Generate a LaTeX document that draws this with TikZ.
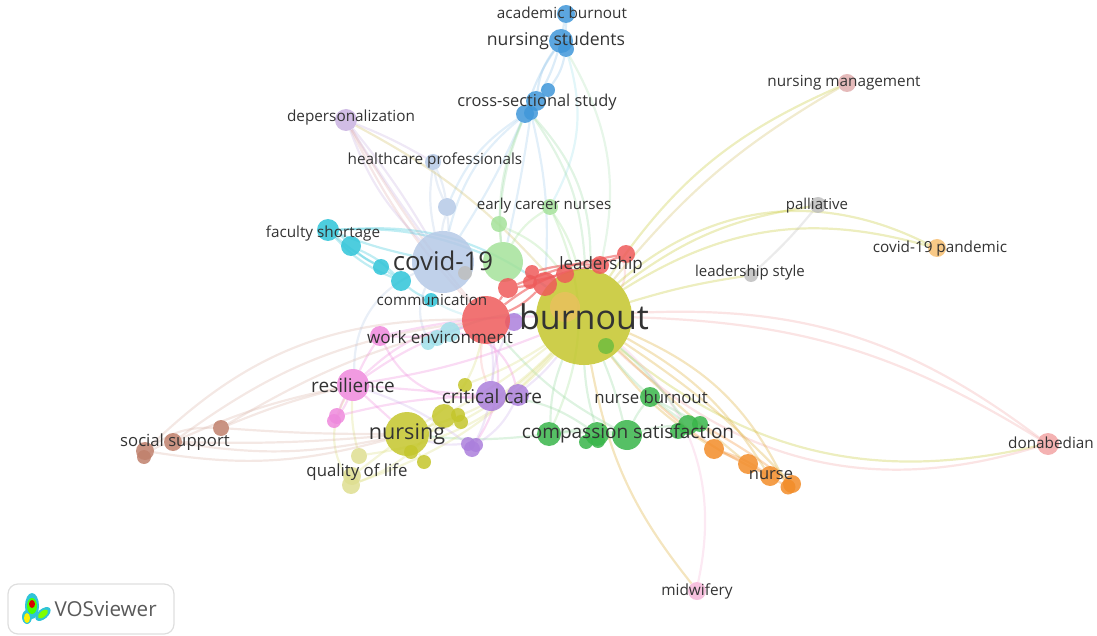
\documentclass[tikz,border=0pt]{standalone}
\usepackage{fontspec}
\setmainfont{Open Sans}
\usetikzlibrary{positioning}
\definecolor{cyel}{HTML}{C4C62B}
\definecolor{cyelpale}{HTML}{DEDE90}
\definecolor{cred}{HTML}{EE5A5A}
\definecolor{cblue}{HTML}{3F97D9}
\definecolor{cpaleblue}{HTML}{B5C9E6}
\definecolor{cpalegreen}{HTML}{A4E29A}
\definecolor{cgreen}{HTML}{38B54A}
\definecolor{cteal}{HTML}{2FC4D8}
\definecolor{cpalecyan}{HTML}{A0E0EA}
\definecolor{cpink}{HTML}{EE88DC}
\definecolor{cpurple}{HTML}{AB7FDC}
\definecolor{clilac}{HTML}{C9B2E0}
\definecolor{corange}{HTML}{F28C28}
\definecolor{cbrown}{HTML}{C0806C}
\definecolor{crose}{HTML}{E0AEAE}
\definecolor{cgrey}{HTML}{BEBEBE}
\definecolor{capricot}{HTML}{F7BF72}
\definecolor{csalmon}{HTML}{F2A4A4}
\definecolor{cmid}{HTML}{F5B6D8}
\definecolor{ctext}{HTML}{333333}
\begin{document}
\begin{tikzpicture}[x=1pt,y=-1pt]
	\pgfdeclarelayer{bg}    % links go below the bubbles
	\pgfsetlayers{bg,main}
	
	\tikzset{bubble/.style={circle,inner sep=0pt,fill opacity=.85,minimum size=#1}}
	\tikzset{lab/.style={inner sep=0pt,text=ctext,font=\fontsize{#1}{#1}\selectfont}}
	\tikzstyle{link} = [line width=2.2pt,draw opacity=.3]
	
	\useasboundingbox (0,0) rectangle (1097,636);
	
	% Bubbles
	\node [bubble=96, fill=cyel] (burnout) at (584,317) {};
	\node [bubble=30, fill=capricot!70!cyel] (burnoutB) at (565,307) {};
	\node [bubble=16, fill=cgreen!60!cyel] (burnoutC) at (606,346) {};
	\node [bubble=18, fill=cpurple] (purpleA) at (514,322) {};
	\node [bubble=48, fill=cred] (redA) at (486,320) {};
	\node [bubble=62, fill=cpaleblue] (covid) at (443,262) {};
	\node [bubble=40, fill=cpalegreen] (greenA) at (503,262) {};
	\node [bubble=14, fill=cgrey] (greyA) at (465,273) {};
	\node [bubble=18, fill=cred] (leader) at (600,265) {};
	\node [bubble=18, fill=cred] (redB) at (626,254) {};
	\node [bubble=14, fill=cred] (redC) at (532,272) {};
	\node [bubble=14, fill=cred] (redD) at (530,282) {};
	\node [bubble=20, fill=cred] (redE) at (508,288) {};
	\node [bubble=24, fill=cred] (redF) at (545,284) {};
	\node [bubble=18, fill=cred] (redG) at (565,274) {};
	
	\node [bubble=22, fill=cteal] (faculty) at (328,230) {};
	\node [bubble=20, fill=cteal] (tealA) at (351,246) {};
	\node [bubble=16, fill=cteal] (tealB) at (381,267) {};
	\node [bubble=20, fill=cteal] (tealC) at (401,281) {};
	\node [bubble=14, fill=cteal] (commun) at (431,300) {};
	\node [bubble=20, fill=cpalecyan] (cyanA) at (450,332) {};
	\node [bubble=16, fill=cpalecyan] (cyanB) at (437,338) {};
	\node [bubble=14, fill=cpalecyan] (cyanC) at (428,343) {};
	
	\node [bubble=20, fill=cpink] (workenv) at (380,336) {};
	\node [bubble=32, fill=cpink] (resil) at (353,385) {};
	\node [bubble=16, fill=cpink] (pinkA) at (337,416) {};
	\node [bubble=14, fill=cpink] (pinkB) at (334,421) {};
	
	\node [bubble=16, fill=cpalegreen] (earlycar) at (550,207) {};
	\node [bubble=16, fill=cpalegreen] (greenB) at (499,224) {};
	\node [bubble=18, fill=cpaleblue] (paleA) at (447,207) {};
	\node [bubble=16, fill=cpaleblue] (health) at (433,162) {};
	\node [bubble=22, fill=clilac] (deperson) at (346,120) {};
	
	\node [bubble=18, fill=cblue] (crossB) at (525,114) {};
	\node [bubble=14, fill=cblue] (crossC) at (531,113) {};
	\node [bubble=20, fill=cblue] (crossA) at (536,101) {};
	\node [bubble=14, fill=cblue] (crossD) at (548,90) {};
	\node [bubble=16, fill=cblue] (studentB) at (566,49) {};
	\node [bubble=24, fill=cblue] (students) at (561,41) {};
	\node [bubble=18, fill=cblue] (academic) at (566,14) {};
	
	\node [bubble=18, fill=crose] (manage) at (847,83) {};
	\node [bubble=16, fill=cgrey] (palliat) at (818,205) {};
	\node [bubble=14, fill=cgrey] (lstyle) at (751,275) {};
	\node [bubble=18, fill=capricot] (pandemic) at (937,248) {};
	\node [bubble=22, fill=csalmon] (donab) at (1048,444) {};
	\node [bubble=18, fill=cmid] (midwife) at (697,591) {};
	
	\node [bubble=20, fill=corange] (orangeA) at (714,449) {};
	\node [bubble=20, fill=corange] (orangeB) at (748,464) {};
	\node [bubble=20, fill=corange] (nurse) at (770,476) {};
	\node [bubble=18, fill=corange] (orangeC) at (792,484) {};
	\node [bubble=15, fill=corange] (orangeD) at (788,487) {};
	
	\node [bubble=24, fill=cgreen] (compA) at (549,434) {};
	\node [bubble=24, fill=cgreen] (compB) at (597,434) {};
	\node [bubble=14, fill=cgreen] (compC) at (586,442) {};
	\node [bubble=14, fill=cgreen] (compD) at (598,441) {};
	\node [bubble=30, fill=cgreen] (compE) at (627,435) {};
	\node [bubble=16, fill=cgreen] (compF) at (678,431) {};
	\node [bubble=20, fill=cgreen] (compG) at (688,425) {};
	\node [bubble=16, fill=cgreen] (compH) at (700,424) {};
	\node [bubble=20, fill=cgreen] (nburn) at (650,397) {};
	
	\node [bubble=30, fill=cpurple] (critical) at (491,396) {};
	\node [bubble=22, fill=cpurple] (purpleB) at (518,395) {};
	\node [bubble=14, fill=cyel] (yelE) at (465,385) {};
	\node [bubble=16, fill=cpurple] (purpleC) at (472,449) {};
	\node [bubble=14, fill=cpurple] (purpleD) at (476,445) {};
	\node [bubble=14, fill=cpurple] (purpleF) at (468,444) {};
	
	\node [bubble=44, fill=cyel] (nursing) at (407,434) {};
	\node [bubble=24, fill=cyel] (yelA) at (444,416) {};
	\node [bubble=14, fill=cyel] (yelB) at (458,415) {};
	\node [bubble=14, fill=cyel] (yelC) at (461,422) {};
	\node [bubble=14, fill=cyel] (yelD) at (411,452) {};
	\node [bubble=14, fill=cyel] (yelF) at (424,462) {};
	\node [bubble=16, fill=cyelpale] (qualA) at (359,456) {};
	\node [bubble=18, fill=cyelpale] (qualB) at (352,476) {};
	\node [bubble=18, fill=cyelpale] (qualC) at (351,485) {};
	
	\node [bubble=18, fill=cbrown] (social) at (173,442) {};
	\node [bubble=18, fill=cbrown] (brownA) at (145,451) {};
	\node [bubble=14, fill=cbrown] (brownB) at (144,457) {};
	\node [bubble=16, fill=cbrown] (brownC) at (221,428) {};
	
	% Links, grouped by colour
	\begin{pgfonlayer}{bg}
	  \draw [link, cblue!60] (academic) to[bend left=12] (students);
	  \draw [link, cblue!60] (academic) to[bend right=12] (studentB);
	  \draw [link, cblue!60] (students) to[bend right=8] (crossB);
	  \draw [link, cblue!60] (students) to[bend right=14] (crossA);
	  \draw [link, cblue!60] (students) to[bend left=6] (crossA);
	  \draw [link, cblue!60] (studentB) to[bend left=12] (crossD);
	  \draw [link, cpalecyan] (studentB) to[bend left=22] (earlycar);
	  \draw [link, cgreen!40] (studentB) to[bend left=22] (burnout);
	  \draw [link, cblue!50] (crossB) to[bend right=16] (paleA);
	  \draw [link, cblue!50] (crossB) to[bend right=18] (covid);
	  \draw [link, cblue!50] (crossB) to[bend left=4] (covid);
	  \draw [link, cgreen!50] (crossB) to[bend right=8] (greenB);
	  \draw [link, cgreen!50] (crossB) to[bend right=14] (greenA);
	  \draw [link, cblue!50] (crossC) to[bend left=2] (greenA);
	  \draw [link, cgreen!50] (crossC) to[bend left=16] (burnout);
	  \draw [link, cgreen!50] (crossC) to[bend left=22] (burnout);
	  \draw [link, cblue!50] (crossC) to[bend left=8] (redF);
	  \draw [link, cpaleblue] (health) to[bend right=8] (paleA);
	  \draw [link, cpaleblue] (health) to[bend left=8] (paleA);
	  \draw [link, cpaleblue] (paleA) to[bend left=6] (covid);
	  \draw [link, cpaleblue] (paleA) to[bend right=6] (covid);
	  \draw [link, cpaleblue] (health) to[bend right=10] (covid);
	  \draw [link, clilac] (deperson) to[bend right=12] (covid);
	  \draw [link, clilac] (deperson) to[bend right=2] (covid);
	  \draw [link, clilac] (deperson) to[bend left=4] (covid);
	  \draw [link, crose] (deperson) to[bend right=8] (redA);
	  \draw [link, crose] (deperson) to[bend right=4] (redA);
	  \draw [link, cyel!60!crose] (deperson) to[bend left=10] (burnout);
	  \draw [link, clilac] (deperson) to[bend left=4] (health);
	  \draw [link, cteal] (faculty) to[bend left=12] (tealA);
	  \draw [link, cteal] (faculty) to[bend right=6] (tealB);
	  \draw [link, cteal] (faculty) to[bend right=12] (tealC);
	  \draw [link, cteal] (faculty) to[bend left=12] (greenA);
	  \draw [link, cteal] (faculty) to[bend left=20] (burnout);
	  \draw [link, cteal] (faculty) to[bend right=4] (covid);
	  \draw [link, cteal] (tealA) to[bend right=8] (tealB);
	  \draw [link, cteal] (tealA) to[bend left=10] (tealC);
	  \draw [link, cteal] (tealB) to (tealC);
	  \draw [link, cteal] (tealC) to[bend right=8] (commun);
	  \draw [link, cpalecyan] (commun) to[bend right=6] (redA);
	  \draw [link, cpaleblue] (covid) to[bend right=24] (cyanC);
	  \draw [link, cpaleblue] (covid) to[bend right=32] (resil);
	  \draw [link, cpalegreen] (earlycar) to[bend right=14] (greenA);
	  \draw [link, cpalegreen] (earlycar) to[bend left=10] (burnout);
	  \draw [link, cpalegreen] (earlycar) to[bend left=24] (compA);
	  \draw [link, cpalegreen] (greenB) to (greenA);
	  \draw [link, cpalegreen] (greenB) to[bend left=16] (burnout);
	  \draw [link, cred, draw opacity=.6] (redA) to (redE);
	  \draw [link, cred, draw opacity=.6] (redA) to[bend right=10] (redF);
	  \draw [link, cred, draw opacity=.6] (redE) to (redF);
	  \draw [link, cred, draw opacity=.6] (redD) to (redG);
	  \draw [link, cred, draw opacity=.6] (redC) to[bend left=8] (leader);
	  \draw [link, cred, draw opacity=.6] (redE) to[bend left=6] (redB);
	  \draw [link, cred, draw opacity=.6] (redA) to[bend left=14] (leader);
	  \draw [link, cred, draw opacity=.6] (leader) to (redB);
	  \draw [link, cred!50] (redB) to[bend left=18] (burnout);
	  \draw [link, cred!50] (redA) to[bend right=14] (critical);
	  \draw [link, cyel] (burnout) to[bend left=16] (manage);
	  \draw [link, cyel!60!crose] (burnout) to[bend left=10] (manage);
	  \draw [link, cyel] (burnout) to[bend left=14] (palliat);
	  \draw [link, cyel] (burnout) to[bend left=4] (lstyle);
	  \draw [link, cyel] (burnout) to[bend left=34] (pandemic);
	  \draw [link, cyel] (burnout) to[bend left=24] (pandemic);
	  \draw [link, cgrey] (lstyle) to[bend right=4] (palliat);
	  \draw [link, csalmon] (burnout) to[bend left=20] (donab);
	  \draw [link, csalmon] (burnout) to[bend left=15] (donab);
	  \draw [link, cyel] (burnout) to[bend right=26] (donab);
	  \draw [link, csalmon] (burnout) to[bend right=30] (donab);
	  \draw [link, cyel!50!corange] (burnout) to[bend right=10] (orangeA);
	  \draw [link, cyel!50!corange] (burnout) to[bend right=2] (orangeB);
	  \draw [link, cyel!50!corange] (burnout) to[bend left=6] (orangeC);
	  \draw [link, cyel!50!corange] (burnout) to[bend left=14] (nurse);
	  \draw [link, cyel!50!corange] (burnout) to[bend left=20] (orangeD);
	  \draw [link, corange] (orangeA) to (orangeB);
	  \draw [link, corange] (orangeA) to[bend left=8] (nurse);
	  \draw [link, corange] (orangeB) to (orangeD);
	  \draw [link, corange] (compH) to[bend left=4] (orangeC);
	  \draw [link, corange] (nburn) to[bend right=8] (nurse);
	  \draw [link, cyel!50!corange] (burnout) to[bend right=14] (midwife);
	  \draw [link, cmid] (burnout) to[bend left=30] (midwife);
	  \draw [link, cgreen!55] (burnout) to[bend right=10] (compA);
	  \draw [link, cgreen!55] (burnout) to[bend right=6] (compB);
	  \draw [link, cgreen!55] (burnout) to[bend left=4] (compE);
	  \draw [link, cgreen!55] (burnout) to[bend right=4] (nburn);
	  \draw [link, cgreen!55] (burnout) to[bend left=6] (compG);
	  \draw [link, cgreen!55] (redA) to[bend right=10] (compE);
	  \draw [link, cgreen!55] (compA) to[bend left=6] (compB);
	  \draw [link, cgreen!55] (compA) to[bend left=10] (compE);
	  \draw [link, cgreen!55] (compB) to (compE);
	  \draw [link, cgreen!55] (compE) to[bend left=6] (compG);
	  \draw [link, cgreen!55] (nburn) to[bend right=6] (compE);
	  \draw [link, cgreen!55] (nburn) to (compG);
	  \draw [link, cgreen!55] (nburn) to (compH);
	  \draw [link, cgreen!55] (nursing) to[bend right=6] (compA);
	  \draw [link, cgreen!55] (critical) to[bend left=14] (compB);
	  \draw [link, cyel!60] (burnout) to[bend left=14] (nursing);
	  \draw [link, cyel!60] (burnout) to[bend left=4] (yelA);
	  \draw [link, cyel!60] (burnout) to[bend left=8] (yelC);
	  \draw [link, cyel!60] (burnout) to[bend left=6] (yelE);
	  \draw [link, cyel!60] (burnout) to[bend left=20] (qualA);
	  \draw [link, cyel!60] (burnout) to[bend left=14] (qualC);
	  \draw [link, cyel!60] (nursing) to[bend right=8] (yelA);
	  \draw [link, cyel!60] (nursing) to[bend right=6] (yelC);
	  \draw [link, cyel!60] (nursing) to (qualB);
	  \draw [link, cyel!60] (nursing) to (yelF);
	  \draw [link, cyel!60] (yelA) to[bend left=14] (qualC);
	  \draw [link, cyel!60] (resil) to[bend right=8] (qualA);
	  \draw [link, cyel!60] (resil) to[bend right=30] (qualC);
	  \draw [link, cyel!60] (redA) to[bend left=22] (nursing);
	  \draw [link, cpink] (resil) to[bend left=8] (redA);
	  \draw [link, cpink] (resil) to[bend left=16] (redA);
	  \draw [link, cpink] (resil) to[bend right=6] (burnout);
	  \draw [link, cpink] (resil) to (critical);
	  \draw [link, cpink] (resil) to (nursing);
	  \draw [link, cpink] (resil) to[bend right=6] (pinkA);
	  \draw [link, cpink] (resil) to[bend left=8] (pinkB);
	  \draw [link, cpink] (resil) to[bend left=4] (workenv);
	  \draw [link, cpink] (pinkA) to[bend left=6] (critical);
	  \draw [link, cpink] (workenv) to[bend right=10] (redA);
	  \draw [link, cpink] (workenv) to[bend right=34] (critical);
	  \draw [link, cpink] (workenv) to[bend left=6] (burnout);
	  \draw [link, cpink] (cyanA) to[bend left=34] (purpleB);
	  \draw [link, cpink] (redA) to[bend left=24] (purpleC);
	  \draw [link, cpalecyan] (cyanB) to (cyanA);
	  \draw [link, cpalecyan] (cyanC) to[bend left=14] (burnout);
	  \draw [link, cpurple!60] (critical) to[bend right=8] (redA);
	  \draw [link, cpurple!60] (critical) to[bend left=12] (purpleA);
	  \draw [link, cpurple!60] (critical) to[bend left=6] (purpleC);
	  \draw [link, cpurple!60] (purpleB) to[bend left=14] (purpleD);
	  \draw [link, cpurple!60] (purpleB) to[bend right=6] (burnout);
	  \draw [link, cpurple!60] (nursing) to[bend right=10] (purpleF);
	  \draw [link, cpurple!60] (resil) to[bend left=8] (purpleF);
	  \draw [link, cbrown!60] (social) to[bend right=3] (nursing);
	  \draw [link, cbrown!60] (social) to[bend right=10] (nursing);
	  \draw [link, cbrown!60] (brownA) to[bend right=12] (nursing);
	  \draw [link, cbrown!60] (brownC) to[bend right=2] (nursing);
	  \draw [link, cbrown!60] (social) to[bend left=6] (resil);
	  \draw [link, cbrown!60] (brownC) to[bend left=4] (resil);
	  \draw [link, cbrown!60] (brownC) to[bend left=8] (redA);
	  \draw [link, cbrown!60] (social) to[bend left=14] (redA);
	  \draw [link, cbrown!60] (brownA) to[bend left=22] (redA);
	  \draw [link, cbrown!60] (brownA) to[bend left=18] (brownC);
	  \draw [link, cbrown!60] (brownB) to[bend left=12] (social);
	\end{pgfonlayer}
	
	% Labels
	\node [lab=34] (lburnout) at (584,317) {burnout};
	\node [lab=25.8] (lcovid) at (443,261) {covid-19};
	\node [lab=21.6] (lnursing) at (407,434) {nursing};
	\node [lab=19] (lresil) at (353,385) {resilience};
	\node [lab=19] (lcritical) at (492,396) {critical care};
	\node [lab=17.6] (lstudents) at (556,41) {nursing students};
	\node [lab=19] (lcomp) at (628,434) {compassion satisfaction};
	\node [lab=16.4] (lcross) at (537,102) {cross-sectional study};
	\node [lab=17] (lleader) at (601,265) {leadership};
	\node [lab=17] (lworkenv) at (440,337) {work environment};
	\node [lab=16.8] (lnburn) at (651,397) {nurse burnout};
	\node [lab=16.8] (lquality) at (357,472) {quality of life};
	\node [lab=16.5] (lnurse) at (771,475) {nurse};
	\node [lab=15.3] (lacademic) at (562,13) {academic burnout};
	\node [lab=15.3] (lmanage) at (844,83) {nursing management};
	\node [lab=15.3] (ldeperson) at (351,118) {depersonalization};
	\node [lab=15.3] (lhealth) at (435,160) {healthcare professionals};
	\node [lab=15.1] (learly) at (544,206) {early career nurses};
	\node [lab=15] (lpalliat) at (817,206) {palliative};
	\node [lab=15.3] (lpandemic) at (940,249) {covid-19 pandemic};
	\node [lab=15.3] (lfaculty) at (323,233) {faculty shortage};
	\node [lab=15] (lstyle2) at (750,273) {leadership style};
	\node [lab=15.2] (lcommun) at (432,300) {communication};
	\node [lab=16.7] (lsocial) at (175,442) {social support};
	\node [lab=15.3] (ldonab) at (1051,443) {donabedian};
	\node [lab=15.4] (lmidwife) at (697,591) {midwifery};
	
	% Logo box
	\node [draw=black!13, line width=1.2pt, rounded corners=3.5mm, minimum width=166, minimum height=50] (logo) at (91,609) {};
	\node [lab=20.6, text=black!65, right=47pt of logo.west] (logotext) {VOSviewer};
	\fill [cteal] (32,606) ellipse [x radius=7, y radius=13];
	\fill [cteal] (27,617) ellipse [x radius=5, y radius=7];
	\fill [cteal, rotate around={40:(43,614)}] (43,614) ellipse [x radius=9, y radius=5];
	\fill [green!70!yellow] (32,606) ellipse [x radius=5, y radius=8];
	\fill [yellow] (27,618) ellipse [x radius=3, y radius=5];
	\fill [green!50!yellow, rotate around={40:(43,614)}] (43,614) ellipse [x radius=6, y radius=3];
	\fill [red!85!black] (32,604) ellipse [x radius=3, y radius=4];
\end{tikzpicture}
\end{document}
